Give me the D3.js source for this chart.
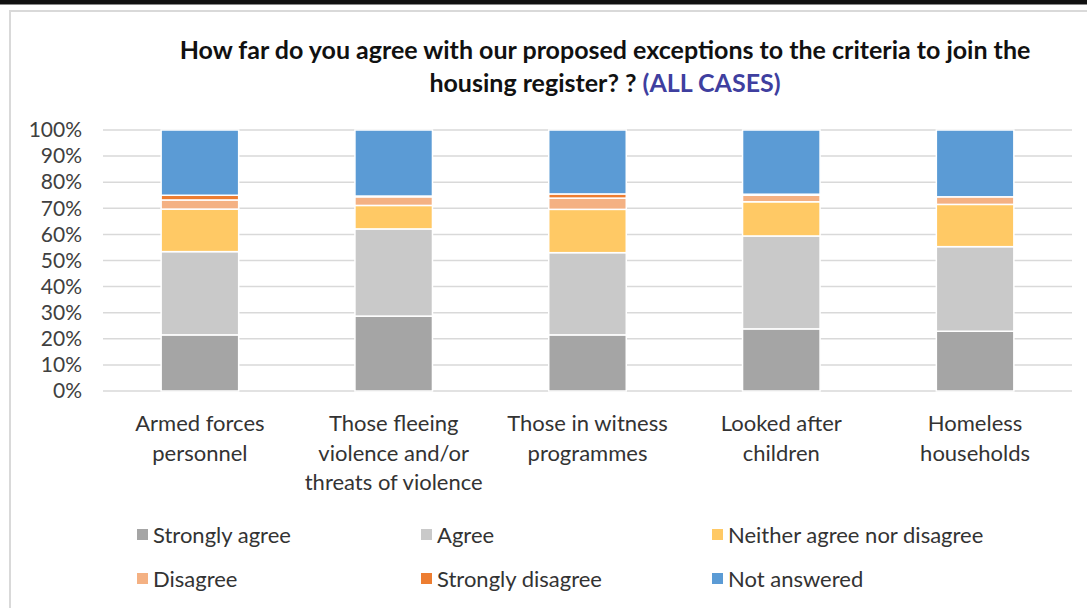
<!DOCTYPE html>
<html>
<head>
<meta charset="utf-8">
<script src="https://cdn.jsdelivr.net/npm/d3@7"></script>
<style>
  body { margin: 0; background: #fff; }
  svg { display: block; font-family: Lato, "Open Sans", sans-serif; }
</style>
</head>
<body>
<script>
    // Categories and series (percent of responses)
    const categories = [
      ["Armed forces", "personnel"],
      ["Those fleeing", "violence and/or", "threats of violence"],
      ["Those in witness", "programmes"],
      ["Looked after", "children"],
      ["Homeless", "households"]
    ];
    const seriesNames = ["Strongly agree", "Agree", "Neither agree nor disagree", "Disagree", "Strongly disagree", "Not answered"];
    const stronglyAgree = [21.5, 28.7, 21.5, 23.8, 22.9];
    const agree = [31.9, 33.4, 31.5, 35.6, 32.4];
    const neither = [16.3, 9.0, 16.6, 13.1, 16.2];
    const disagree = [3.5, 3.3, 4.3, 2.5, 2.9];
    const stronglyDisagree = [1.8, 0.3, 1.6, 0.4, 0];
    const notAnswered = [25.0, 25.3, 24.5, 24.6, 25.6];
    const yTicks = [0, 10, 20, 30, 40, 50, 60, 70, 80, 90, 100];
    const colors = ["#a5a5a5", "#c9c9c9", "#ffc965", "#f4b183", "#ed7d31", "#5b9bd5"];

    const width = 1087, height = 608;
    const svg = d3.select("body").append("svg")
      .attr("width", width)
      .attr("height", height);

    // frame bits around the chart
    svg.append("rect").attr("x", 0).attr("y", 0).attr("width", width).attr("height", 4).attr("fill", "#111");
    svg.append("rect").attr("x", 0).attr("y", 4).attr("width", width).attr("height", 1).attr("fill", "#888");
    svg.append("path")
      .attr("d", `M10,${height} V11 H${width}`)
      .attr("fill", "none")
      .attr("stroke", "#d9d9d9")
      .attr("stroke-width", 2);

    // title
    const title = svg.append("text")
      .attr("text-anchor", "middle")
      .attr("font-weight", "bold")
      .attr("font-size", 25)
      .attr("fill", "#111");
    title.append("tspan").attr("x", 605).attr("y", 59)
      .text("How far do you agree with our proposed exceptions to the criteria to join the");
    const t2 = title.append("tspan").attr("x", 605).attr("y", 92);
    t2.append("tspan").text("housing register? ? ");
    t2.append("tspan").attr("fill", "#3f3f9f").text("(ALL CASES)");

    // scales
    const x = d3.scaleBand()
      .domain(d3.range(categories.length))
      .range([103, 1072])
      .paddingInner(0.6)
      .paddingOuter(0.3);
    const y = d3.scaleLinear().domain([0, 100]).range([391, 130]);

    // gridlines
    svg.append("g")
      .selectAll("line")
      .data(yTicks)
      .join("line")
      .attr("x1", 103).attr("x2", 1072)
      .attr("y1", d => y(d)).attr("y2", d => y(d))
      .attr("stroke", "#d9d9d9")
      .attr("stroke-width", 1.5);

    // y axis labels
    const yAxis = svg.append("g")
      .attr("transform", "translate(82,0)")
      .call(d3.axisLeft(y).tickValues(yTicks).tickFormat(d => d + "%").tickSize(0).tickPadding(0));
    yAxis.select(".domain").remove();
    yAxis.selectAll("text")
      .attr("font-family", "Lato, sans-serif")
      .attr("font-size", 21)
      .attr("fill", "#404040");

    // stacked bars
    const rows = categories.map((c, i) => ({
      i,
      "Strongly agree": stronglyAgree[i],
      "Agree": agree[i],
      "Neither agree nor disagree": neither[i],
      "Disagree": disagree[i],
      "Strongly disagree": stronglyDisagree[i],
      "Not answered": notAnswered[i]
    }));
    const stack = d3.stack().keys(seriesNames)(rows);

    svg.append("g")
      .selectAll("g")
      .data(stack)
      .join("g")
      .attr("fill", (d, k) => colors[k])
      .selectAll("rect")
      .data(d => d.filter(s => s[1] - s[0] > 0))
      .join("rect")
      .attr("x", d => x(d.data.i))
      .attr("width", x.bandwidth())
      .attr("y", d => y(d[1]))
      .attr("height", d => y(d[0]) - y(d[1]))
      .attr("stroke", "#fff")
      .attr("stroke-width", 1.5);

    // category labels
    svg.append("g")
      .selectAll("text")
      .data(categories)
      .join("text")
      .attr("text-anchor", "middle")
      .attr("font-size", 22)
      .attr("fill", "#333")
      .each(function(lines, i) {
        d3.select(this).selectAll("tspan")
          .data(lines)
          .join("tspan")
          .attr("x", x(i) + x.bandwidth() / 2)
          .attr("y", (d, j) => 431 + j * 29.5)
          .text(d => d);
      });

    // legend
    const legendX = [137, 421, 712];
    const legendY = [535, 579];
    const legend = svg.append("g")
      .selectAll("g")
      .data(seriesNames)
      .join("g")
      .attr("transform", (d, k) => `translate(${legendX[k % 3]},${legendY[Math.floor(k / 3)]})`);
    legend.append("rect")
      .attr("x", 0).attr("y", -6)
      .attr("width", 11).attr("height", 11)
      .attr("fill", (d, k) => colors[k]);
    legend.append("text")
      .attr("x", 16).attr("y", 8)
      .attr("font-size", 22)
      .attr("fill", "#333")
      .text(d => d);
</script>
</body>
</html>
